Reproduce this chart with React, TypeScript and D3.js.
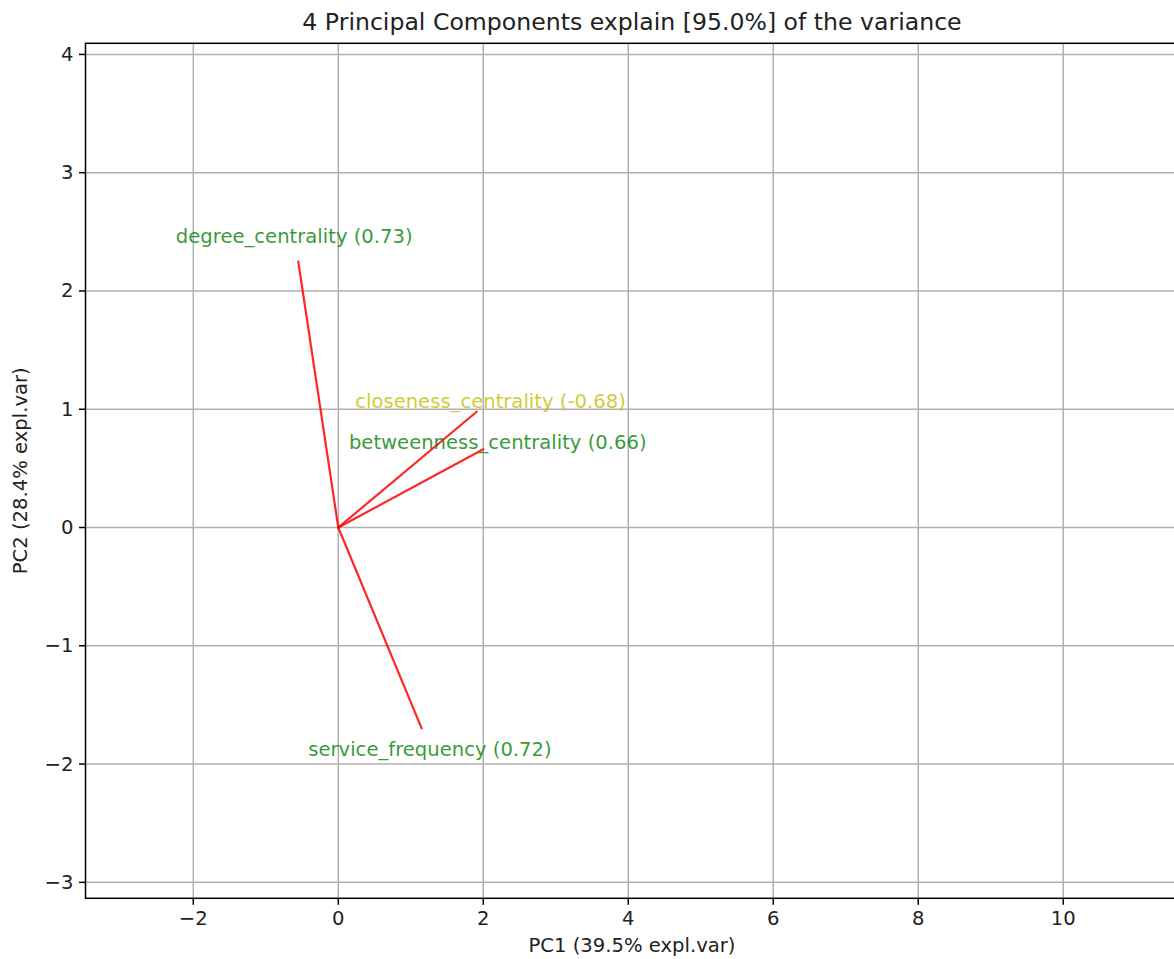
import React from "react";
import * as d3 from "d3";

// loadings (PC1, PC2)
const features = ["degree_centrality", "closeness_centrality", "betweenness_centrality", "service_frequency"];
const pc1 = [-0.552, 1.909, 2.0, 1.15];
const pc2 = [2.248, 0.979, 0.661, -1.698];
const scores = ["0.73", "-0.68", "0.66", "0.72"];
const labelColors = ["#008000", "#bfbf00", "#008000", "#008000"];

const xTicks = [-2, 0, 2, 4, 6, 8, 10];
const yTicks = [-3, -2, -1, 0, 1, 2, 3, 4];

const title = "4 Principal Components explain [95.0%] of the variance";
const xLabel = "PC1 (39.5% expl.var)";
const yLabel = "PC2 (28.4% expl.var)";

export default function App() {
    const width = 1174;
    const height = 959;
    const margin = { top: 43.3, right: -4.5, bottom: 60.7, left: 85.5 };

    const x = d3.scaleLinear([-3.487, 11.59], [margin.left, width - margin.right]);
    const y = d3.scaleLinear([-3.135, 4.094], [height - margin.bottom, margin.top]);
    const fmt = d3.format("d");

    const font = "'DejaVu Sans', sans-serif";
    const fs = 19.6;

    return <div style={{ position: "absolute", left: 0, top: 0 }}>
        <svg width={width} height={height} style={{ display: "block", background: "white" }} fontFamily={font}>
            {/* grid */}
            <g stroke="#b0b0b0" strokeWidth={1.5}>
                {xTicks.map((t) => (
                    <line key={"gx" + t} x1={x(t)} x2={x(t)} y1={y.range()[0]} y2={y.range()[1]} />
                ))}
                {yTicks.map((t) => (
                    <line key={"gy" + t} x1={x.range()[0]} x2={x.range()[1]} y1={y(t)} y2={y(t)} />
                ))}
            </g>

            {/* vectors */}
            <g stroke="#ff0000" strokeOpacity={0.85} strokeWidth={2.2} strokeLinecap="round">
                {features.map((f, i) => (
                    <line key={f} x1={x(0)} y1={y(0)} x2={x(pc1[i])} y2={y(pc2[i])} />
                ))}
            </g>
            {features.map((f, i) => (
                <text key={"t" + f} x={x(pc1[i] * 1.1)} y={y(pc2[i] * 1.1)} dy={1}
                    fill={labelColors[i]} fillOpacity={0.8} fontSize={fs}
                    textAnchor="middle" dominantBaseline="central">
                    {f} ({scores[i]})
                </text>
            ))}

            {/* spines */}
            <rect x={x.range()[0]} y={y.range()[1]} width={x.range()[1] - x.range()[0]}
                height={y.range()[0] - y.range()[1]} fill="none" stroke="#000" strokeWidth={1.5} />

            {/* x axis ticks */}
            <g fill="#222" fontSize={fs}>
                {xTicks.map((t) => (
                    <g key={"xt" + t}>
                        <line x1={x(t)} x2={x(t)} y1={y.range()[0]} y2={y.range()[0] + 6.5} stroke="#000" strokeWidth={1.5} />
                        <text x={x(t)} y={y.range()[0] + 12} textAnchor="middle" dominantBaseline="hanging">{fmt(t)}</text>
                    </g>
                ))}
                {yTicks.map((t) => (
                    <g key={"yt" + t}>
                        <line x1={x.range()[0] - 6.5} x2={x.range()[0]} y1={y(t)} y2={y(t)} stroke="#000" strokeWidth={1.5} />
                        <text x={x.range()[0] - 12} y={y(t)} textAnchor="end" dominantBaseline="central">{fmt(t)}</text>
                    </g>
                ))}
            </g>

            {/* labels */}
            <text x={(x.range()[0] + x.range()[1]) / 2} y={952} textAnchor="middle" fontSize={fs} fill="#222">{xLabel}</text>
            <text transform={`translate(27,${(y.range()[0] + y.range()[1]) / 2}) rotate(-90)`} textAnchor="middle" fontSize={fs} fill="#222">{yLabel}</text>
            <text x={(x.range()[0] + x.range()[1]) / 2} y={30} textAnchor="middle" fontSize={23.6} fill="#222">{title}</text>
        </svg>
    </div>;
}
